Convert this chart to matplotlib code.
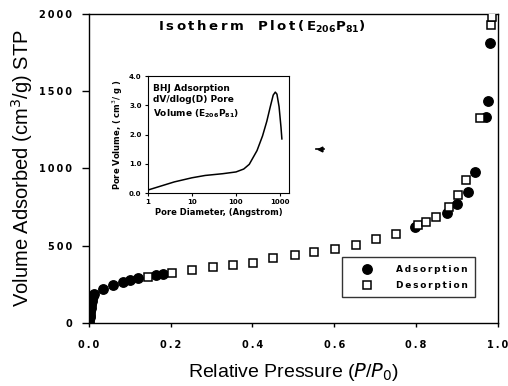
import matplotlib
matplotlib.use("Agg")
import matplotlib.pyplot as plt

# isotherm, adsorption branch (filled circles)
ads_p = [0.0005, 0.001, 0.0015, 0.002, 0.003, 0.003, 0.004, 0.005, 0.006, 0.007, 0.008, 0.010, 0.013,
         0.034, 0.059, 0.084, 0.10, 0.12, 0.165, 0.18,
         0.797, 0.875, 0.899, 0.926, 0.944, 0.972, 0.975, 0.982]
ads_v = [10, 25, 40, 55, 70, 85, 100, 115, 130, 145, 160, 175, 190,
         218, 246, 265, 278, 291, 310, 317,
         620, 712, 770, 850, 975, 1335, 1439, 1810]

# desorption branch (open squares)
des_p = [0.145, 0.202, 0.253, 0.304, 0.353, 0.402, 0.451, 0.503, 0.551, 0.601, 0.653, 0.702, 0.751,
         0.805, 0.824, 0.848, 0.880, 0.903, 0.923, 0.956, 0.983, 0.985]
des_v = [296, 322, 343, 362, 375, 390, 421, 440, 461, 481, 507, 542, 574,
         634, 656, 688, 753, 828, 925, 1325, 1929, 1979]

# BJH pore size distribution (inset)
pore_d = [1, 2, 4, 10, 20, 50, 100, 150, 200, 300, 400, 500, 600, 700, 780, 850, 950, 1050, 1100]
pore_v = [0.10, 0.24, 0.38, 0.52, 0.60, 0.66, 0.72, 0.82, 0.98, 1.45, 1.95, 2.45, 2.95, 3.35,
          3.45, 3.38, 2.95, 2.25, 1.85]

xticks = [0.0, 0.2, 0.4, 0.6, 0.8, 1.0]
yticks = [0, 500, 1000, 1500, 2000]

bold = dict(family="DejaVu Sans", weight="bold")


def spaced(s):
    # the old plot software spreads its letters out a bit
    return "\u2009".join(s)


fig = plt.figure(figsize=(5.08, 3.86), dpi=100)
ax = fig.add_axes([0.175, 0.163, 0.805, 0.801])

ax.plot(ads_p, ads_v, "o", ms=6.8, mfc="black", mec="black", label=spaced("Adsorption"), zorder=3)
ax.plot(des_p, des_v, "s", ms=6.3, mfc="white", mec="black", mew=1.1, label=spaced("Desorption"), zorder=4)
# small stray mark
ax.plot([0.565], [1126], marker="<", ms=3.5, color="black", ls="none")
ax.plot([0.555, 0.575], [1126, 1126], color="black", lw=1.2)

ax.set_xlim(0, 1.0)
ax.set_ylim(0, 2000)
ax.set_xticks(xticks)
ax.set_xticklabels([spaced(f"{t:.1f}") for t in xticks], **bold, fontsize=7)
ax.set_yticks(yticks)
ax.set_yticklabels([spaced(str(t)) for t in yticks], **bold, fontsize=7)
ax.tick_params(axis="x", direction="out", length=3, width=1, pad=9)
ax.tick_params(axis="y", direction="out", length=5, width=1, pad=7)
for s in ax.spines.values():
    s.set_linewidth(1)

ax.set_xlabel("Relative Pressure ($P$/$P_0$)", family="Liberation Sans", fontsize=14, labelpad=8)
ax.set_ylabel("Volume Adsorbed (cm$^3$/g) STP", family="Liberation Sans", fontsize=14.5, labelpad=3)

ax.text(0.423, 0.985, spaced("Isotherm") + "   " + spaced("Plot(E") + r"$_{\mathbf{206}}$"
        + spaced("P") + r"$_{\mathbf{81}}$" + ")", transform=ax.transAxes,
        ha="center", va="top", fontsize=9.5, **bold)

leg = ax.legend(loc="lower right", bbox_to_anchor=(0.944, 0.084), frameon=True, fancybox=False,
                edgecolor="black", prop=dict(family="DejaVu Sans", weight="bold", size=6.5),
                handlelength=4.0, handletextpad=1.2, borderpad=0.8, labelspacing=0.8, borderaxespad=0)
leg.get_frame().set_linewidth(1)

# inset: pore size distribution
ins = fig.add_axes([0.291, 0.5, 0.278, 0.303])
ins.plot(pore_d, pore_v, color="black", lw=1.1)
ins.set_xscale("log")
ins.set_xlim(1, 1600)
ins.set_ylim(0, 4.0)
ins.set_xticks([1, 10, 100, 1000])
ins.set_xticklabels(["1", "10", "100", "1000"], **bold, fontsize=5)
ins.set_yticks([0, 1, 2, 3, 4])
ins.set_yticklabels(["0.0", "1.0", "2.0", "3.0", "4.0"], **bold, fontsize=5)
ins.minorticks_off()
ins.tick_params(direction="out", length=2.5, width=0.8, pad=2)
ins.set_xlabel("Pore Diameter, (Angstrom)", fontsize=6, labelpad=2, **bold)
ins.set_ylabel("Pore Volume, ( cm$^3$/ g )", fontsize=6, labelpad=3, **bold)
ins.text(0.04, 0.93, "BHJ Adsorption\ndV/dlog(D) Pore\nVolume (E$_{\\mathbf{206}}$P$_{\\mathbf{81}}$)",
         transform=ins.transAxes, ha="left", va="top", fontsize=6.5, linespacing=1.3, **bold)

plt.savefig("out.png", dpi=100)
